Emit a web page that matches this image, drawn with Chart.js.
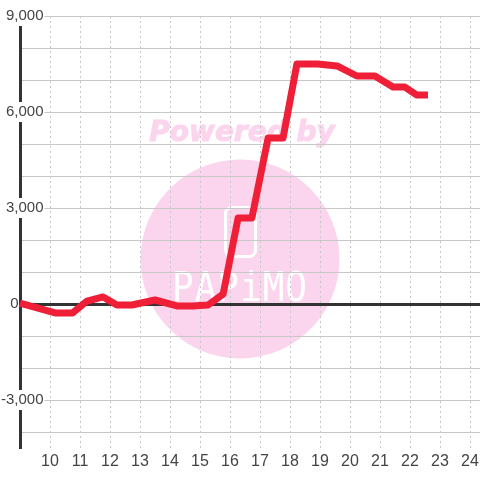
<!DOCTYPE html>
<html>
<head>
<meta charset="utf-8">
<style>
  html, body { margin: 0; padding: 0; background: #fff; }
  canvas { display: block; }
</style>
<script src="https://cdn.jsdelivr.net/npm/chart.js@4"></script>
</head>
<body>
<canvas id="chart" width="480" height="480"></canvas>
<script>
const hours = [9, 10.17, 10.75, 11.23, 11.77, 12.23, 12.73, 13.5, 14.23, 14.77, 15.27, 15.77,
  16.27, 16.73, 17.27, 17.77, 18.23, 18.93, 19.57, 20.23, 20.83, 21.43, 21.83, 22.23, 22.6];
const values = [30, -280, -280, 90, 220, -30, -30, 125, -60, -60, -30, 310,
  2690, 2690, 5190, 5190, 7500, 7500, 7440, 7125, 7125, 6780, 6780, 6530, 6530];
const xTicks = [10, 11, 12, 13, 14, 15, 16, 17, 18, 19, 20, 21, 22, 23, 24];
const yTicks = [9000, 8000, 7000, 6000, 5000, 4000, 3000, 2000, 1000, 0, -1000, -2000, -3000, -4000];
const labelled = [9000, 6000, 3000, 0, -3000];

const FONT = "'Liberation Sans', Arial, sans-serif";

// pink "Powered by" logo sitting behind the grid
const watermark = {
  id: "watermark",
  beforeDraw(chart) {
    const c = chart.ctx;
    c.save();
    c.fillStyle = "#fbd5ed";
    c.strokeStyle = "#fbd5ed";
    c.beginPath();
    c.arc(240, 259, 99.5, 0, Math.PI * 2);
    c.fill();

    c.font = "italic bold 28px 'DejaVu Sans', sans-serif";
    c.textAlign = "center";
    c.textBaseline = "middle";
    c.lineWidth = 1;
    c.fillText("Powered by", 242, 134);
    c.strokeText("Powered by", 242, 134);

    c.strokeStyle = "#fff";
    c.lineWidth = 3;
    c.beginPath();
    c.roundRect(225.5, 207.5, 30, 49, 6);
    c.stroke();

    c.fillStyle = "#fff";
    c.font = "36px 'DejaVu Sans Mono', monospace";
    c.letterSpacing = "1px";
    c.translate(240, 290);
    c.scale(1, 1.15);
    c.fillText("PAPiMO", 0, 0);
    c.restore();
  },
};

new Chart(document.getElementById("chart"), {
  type: "line",
  data: {
    datasets: [
      {
        data: hours.map((h, i) => ({ x: h, y: values[i] })),
        borderColor: "#ee1f36",
        borderWidth: 7,
        borderJoinStyle: "round",
        pointRadius: 0,
        tension: 0,
        clip: false,
      },
    ],
  },
  options: {
    responsive: false,
    animation: false,
    layout: { autoPadding: false, padding: { top: 16 } },
    plugins: { legend: { display: false }, tooltip: { enabled: false } },
    scales: {
      x: {
        type: "linear",
        min: 9,
        max: 24.333,
        afterBuildTicks: (scale) => {
          scale.ticks = xTicks.map((value) => ({ value }));
        },
        afterFit: (scale) => {
          scale.height = 32;
          scale.paddingLeft = 0;
          scale.paddingRight = 0;
        },
        border: { display: false, dash: [2, 3] },
        grid: { color: "#c8c8c8", lineWidth: 1, drawTicks: false },
        ticks: {
          color: "#444",
          font: { family: FONT, size: 16 },
          padding: 4,
          maxRotation: 0,
          autoSkip: false,
          callback: (v) => String(v),
        },
      },
      y: {
        min: -4500,
        max: 9000,
        afterBuildTicks: (scale) => {
          scale.ticks = yTicks.map((value) => ({ value }));
        },
        afterFit: (scale) => {
          scale.width = 20;
          scale.paddingTop = 0;
          scale.paddingBottom = 0;
        },
        border: { color: "#333", width: 3 },
        grid: {
          drawTicks: false,
          color: (ctx) => (ctx.tick && ctx.tick.value === 0 ? "#333" : "#c8c8c8"),
          lineWidth: (ctx) => (ctx.tick && ctx.tick.value === 0 ? 3 : 1),
        },
        ticks: {
          color: "#444",
          font: { family: FONT, size: 15 },
          mirror: true,
          crossAlign: "far",
          padding: -19,
          autoSkip: false,
          showLabelBackdrop: (ctx) => ctx.tick && ctx.tick.value !== 0 && labelled.includes(ctx.tick.value),
          backdropColor: "#fff",
          backdropPadding: 1,
          callback: (v) => {
            if (v === 0) return "0      ";
            return labelled.includes(v) ? v.toLocaleString("en-US") : "";
          },
        },
      },
    },
  },
  plugins: [watermark],
});
</script>
</body>
</html>
